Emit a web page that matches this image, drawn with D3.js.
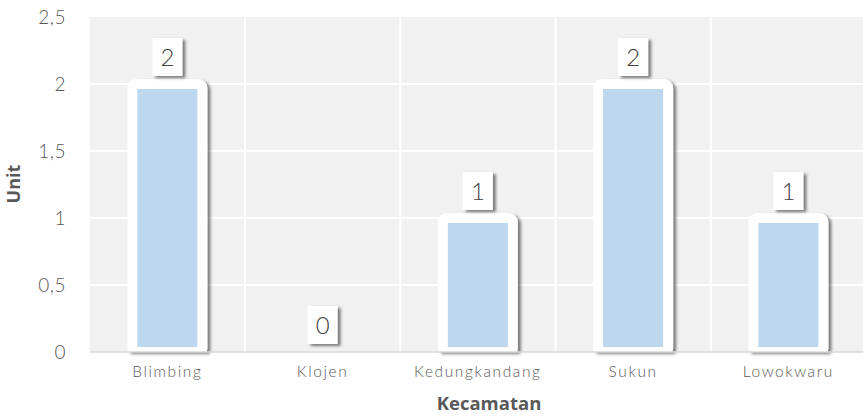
<!DOCTYPE html>
<html>
<head>
<meta charset="utf-8">
<script src="https://cdn.jsdelivr.net/npm/d3@7"></script>
<style>
  body { margin: 0; background: #fff; }
  svg { display: block; }
</style>
</head>
<body>
<div id="chart"></div>
<script>
const categories = ["Blimbing", "Klojen", "Kedungkandang", "Sukun", "Lowokwaru"]
const values = [2, 0, 1, 2, 1]
const yTicks = [0, 0.5, 1, 1.5, 2, 2.5]
const xTitle = "Kecamatan"
const yTitle = "Unit"

const W = 863, H = 417
const plot = { left: 89.7, right: 866, top: 17, bottom: 352 }
const tickFont = "Lato, 'Open Sans', sans-serif"

const svg = d3.select("#chart").append("svg")
    .attr("width", W).attr("height", H)

const defs = svg.append("defs")
const shadow = defs.append("filter").attr("id", "shadow")
    .attr("x", "-30%").attr("y", "-30%").attr("width", "160%").attr("height", "160%")
shadow.append("feDropShadow")
    .attr("dx", 3).attr("dy", 2).attr("stdDeviation", 1.6)
    .attr("flood-color", "#000").attr("flood-opacity", 0.5)

defs.append("clipPath").attr("id", "plotclip")
    .append("rect")
    .attr("x", plot.left).attr("y", plot.top - 20)
    .attr("width", plot.right - plot.left)
    .attr("height", plot.bottom - plot.top + 20)

const x = d3.scaleBand()
    .domain(categories)
    .range([plot.left, plot.right])

const y = d3.scaleLinear()
    .domain([0, 2.5])
    .range([plot.bottom, plot.top])

// plot background
svg.append("rect")
    .attr("x", plot.left).attr("y", plot.top)
    .attr("width", plot.right - plot.left)
    .attr("height", plot.bottom - plot.top)
    .attr("fill", "#f1f1f1")

// grid
svg.append("g").selectAll("line.h")
    .data(yTicks.filter(d => d > 0 && d < 2.5))
    .join("line")
    .attr("x1", plot.left).attr("x2", plot.right)
    .attr("y1", d => y(d)).attr("y2", d => y(d))
    .attr("stroke", "#fff").attr("stroke-width", 2)

svg.append("g").selectAll("line.v")
    .data(categories.slice(1))
    .join("line")
    .attr("x1", d => x(d)).attr("x2", d => x(d))
    .attr("y1", plot.top).attr("y2", plot.bottom)
    .attr("stroke", "#fff").attr("stroke-width", 2)

// y axis labels
svg.append("g").selectAll("text")
    .data(yTicks)
    .join("text")
    .attr("x", 66)
    .attr("y", d => y(d))
    .attr("dy", "0.35em")
    .attr("text-anchor", "end")
    .attr("fill", "#595959")
    .style("font-family", tickFont)
    .style("font-weight", 300)
    .style("font-size", "19px")
    .style("letter-spacing", "0.5px")
    .text(d => d3.format(".1~f")(d).replace(".", ","))

// bars
const barW = 70
const bars = svg.append("g")
    .selectAll("g.bar")
    .data(categories.map((c, i) => ({ c, v: values[i] })).filter(d => d.v > 0))
    .join("g")
    .attr("class", "bar")
    .attr("filter", "url(#shadow)")

bars.append("rect")
    .attr("clip-path", "url(#plotclip)")
    .attr("x", d => x(d.c) + x.bandwidth() / 2 - barW / 2)
    .attr("y", d => y(d.v))
    .attr("width", barW)
    .attr("height", d => y(0) - y(d.v))
    .attr("rx", 4)
    .attr("fill", "#bdd7ee")
    .attr("stroke", "#fff")
    .attr("stroke-width", 10)

// baseline
svg.append("line")
    .attr("x1", plot.left).attr("x2", plot.right)
    .attr("y1", plot.bottom).attr("y2", plot.bottom)
    .attr("stroke", "#d9d9d9").attr("stroke-width", 1.5)

// data labels
const lab = svg.append("g")
    .selectAll("g.label")
    .data(categories.map((c, i) => ({ c, v: values[i] })))
    .join("g")
    .attr("class", "label")
    .attr("transform", d => `translate(${x(d.c) + x.bandwidth() / 2},${y(d.v) - 8})`)

lab.append("rect")
    .attr("x", -15).attr("y", -38)
    .attr("width", 30).attr("height", 38)
    .attr("fill", "#fff")
    .attr("filter", "url(#shadow)")

lab.append("text")
    .attr("y", -19)
    .attr("dy", "0.36em")
    .attr("text-anchor", "middle")
    .attr("fill", "#404040")
    .style("font-family", tickFont)
    .style("font-weight", 300)
    .style("font-size", "24px")
    .text(d => d.v)

// x labels
svg.append("g").selectAll("text")
    .data(categories)
    .join("text")
    .attr("x", d => x(d) + x.bandwidth() / 2)
    .attr("y", 377)
    .attr("text-anchor", "middle")
    .attr("fill", "#595959")
    .style("font-family", tickFont)
    .style("font-weight", 300)
    .style("font-size", "15.5px")
    .style("letter-spacing", "1.6px")
    .text(d => d)

// axis titles
svg.append("text")
    .attr("x", 489).attr("y", 410)
    .attr("text-anchor", "middle")
    .attr("fill", "#595959")
    .style("font-family", "'Open Sans', sans-serif")
    .style("font-weight", 700)
    .style("font-size", "18.5px")
    .text(xTitle)

svg.append("text")
    .attr("transform", "translate(20,184) rotate(-90)")
    .attr("text-anchor", "middle")
    .attr("fill", "#595959")
    .style("font-family", "'Open Sans', sans-serif")
    .style("font-weight", 700)
    .style("font-size", "18px")
    .text(yTitle)
</script>
</body>
</html>
